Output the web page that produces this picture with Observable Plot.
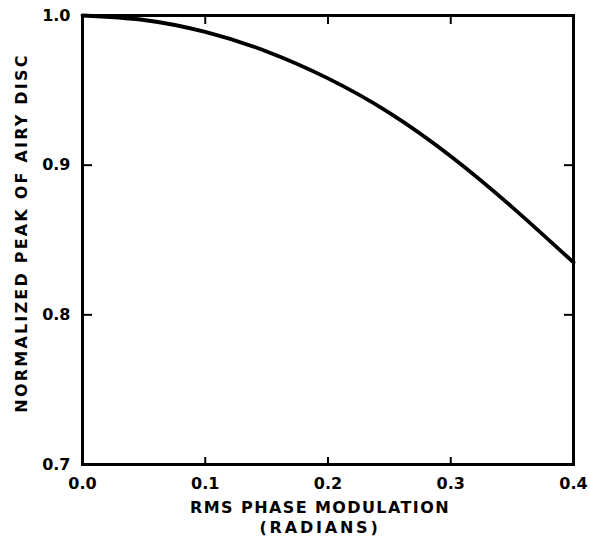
<!DOCTYPE html>
<html>
<head>
<meta charset="utf-8">
<script src="https://cdn.jsdelivr.net/npm/d3@7"></script>
<script src="https://cdn.jsdelivr.net/npm/@observablehq/plot@0.6"></script>
<style>
  html, body { margin: 0; padding: 0; background: #fff; }
  svg { font-family: "DejaVu Sans", sans-serif; }
</style>
</head>
<body>
<div id="chart"></div>
<script>
const rmsPhase = [0, 0.05, 0.1, 0.15, 0.2, 0.25, 0.3, 0.35, 0.4];
const airyPeak = [1.0, 0.997, 0.989, 0.976, 0.958, 0.935, 0.906, 0.872, 0.835];
const xTicks = [0.0, 0.1, 0.2, 0.3, 0.4];
const yTicks = [0.7, 0.8, 0.9, 1.0];
const xTitle = ["RMS PHASE MODULATION", "(RADIANS)"];
const yTitle = "NORMALIZED PEAK OF AIRY DISC";

const data = rmsPhase.map((x, i) => ({x, y: airyPeak[i]}));

const chart = Plot.plot({
  width: 590,
  height: 546,
  marginLeft: 82,
  marginRight: 17,
  marginTop: 15,
  marginBottom: 82,
  style: {fontFamily: "DejaVu Sans, sans-serif", color: "#000", background: "#fff"},
  x: {domain: [0, 0.4]},
  y: {domain: [0.7, 1.0]},
  marks: [
    Plot.axisX({anchor: "bottom", ticks: xTicks, tickSize: -7, tickPadding: 20, tickFormat: d3.format(".1f"), label: null, fontSize: 16, fontWeight: "bold", strokeWidth: 2}),
    Plot.axisX({anchor: "top", ticks: xTicks, tickSize: -8, tickFormat: () => "", label: null, strokeWidth: 2}),
    Plot.axisY({anchor: "left", ticks: yTicks, tickSize: -10, tickPadding: 22, tickFormat: d3.format(".1f"), label: null, fontSize: 16, fontWeight: "bold", strokeWidth: 2}),
    Plot.axisY({anchor: "right", ticks: yTicks, tickSize: -10, tickFormat: () => "", label: null, strokeWidth: 2}),
    Plot.frame({stroke: "#000", strokeWidth: 3}),
    Plot.line(data, {x: "x", y: "y", curve: "natural", stroke: "#000", strokeWidth: 3.8}),
    Plot.text([xTitle[0]], {text: d => d, frameAnchor: "bottom", dx: -8, dy: 48, fontSize: 16, fontWeight: "bold"}),
    Plot.text([xTitle[1]], {text: d => d, frameAnchor: "bottom", dx: -8, dy: 68, fontSize: 16, fontWeight: "bold"}),
    Plot.text([yTitle], {text: d => d, frameAnchor: "left", textAnchor: "middle", dx: -61, dy: -7, rotate: -90, fontSize: 16, fontWeight: "bold"})
  ]
});
const spacing = new Map([[xTitle[0], "1.4px"], [xTitle[1], "2.8px"], [yTitle, "2.2px"]]);
d3.select(chart).selectAll("text").each(function () {
  const s = spacing.get(this.textContent);
  if (s) this.setAttribute("letter-spacing", s);
});
document.getElementById("chart").appendChild(chart);
</script>
</body>
</html>
